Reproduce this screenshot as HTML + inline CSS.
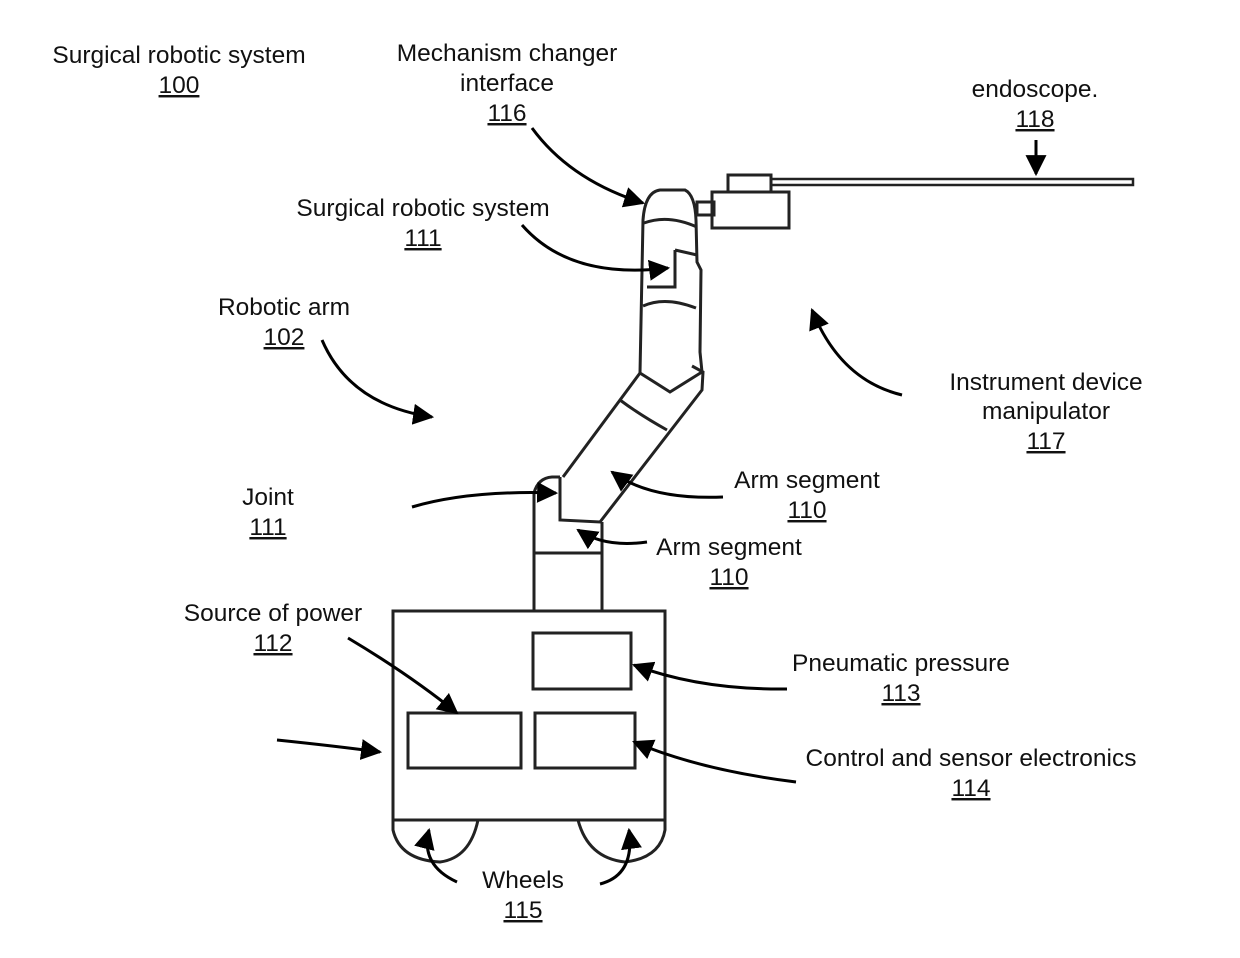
<!DOCTYPE html>
<html><head><meta charset="utf-8"><style>
html,body{margin:0;padding:0;background:#fff}
svg text{font-family:"Liberation Sans",Arial,sans-serif;font-size:24.5px;fill:#111}
</style></head><body>
<svg width="1240" height="953" viewBox="0 0 1240 953" xmlns="http://www.w3.org/2000/svg">
<defs>
<marker id="a" viewBox="0 0 10 10" refX="9" refY="5" markerWidth="7" markerHeight="7" orient="auto" markerUnits="strokeWidth"><path d="M0,0 L10,5 L0,10 z" fill="#000"/></marker>
</defs>
<g fill="none" stroke="#222" stroke-width="3">
<rect x="393" y="611" width="272" height="209"/>
<path d="M393,820 L393,830 Q400,860 440,862 Q470,858 478,820"/>
<path d="M578,820 Q588,858 625,862 Q660,858 665,830 L665,820"/>
<rect x="533" y="633" width="98" height="56"/>
<rect x="408" y="713" width="113" height="55"/>
<rect x="535" y="713" width="100" height="55"/>
<path d="M534,611 L534,493 Q538,478 552,477 L560,477"/>
<path d="M602,611 L602,522"/>
<path d="M534,553 L602,553"/>
<path d="M560,477 L560,520 L600,522 L702,390 L703,372 L692,366"/>
<path d="M563,477 L640,373"/>
<path d="M620,400 Q640,415 667,430"/>
<path d="M640,373 L643,220 Q645,192 660,190 L685,190 Q695,195 696,220 L697,262 L701,270 L700,352 L702,372 L670,392 Z"/>
<path d="M644,223 Q668,214 697,227"/>
<path d="M643,306 Q665,296 696,308"/>
<path d="M675,250 L697,255 M675,250 L675,287 L647,287"/>
<rect x="697" y="202" width="17" height="13"/>
<rect x="712" y="192" width="77" height="36"/>
<rect x="728" y="175" width="43" height="17"/>
<rect x="771" y="179" width="362" height="6" stroke-width="2.5"/>
</g>
<g fill="none" stroke="#000" stroke-width="3" marker-end="url(#a)">
<path d="M1036,140 L1036,174"/>
<path d="M532,128 Q570,180 643,203"/>
<path d="M522,225 Q570,280 668,268"/>
<path d="M322,340 Q350,405 432,417"/>
<path d="M902,395 Q840,380 812,310"/>
<path d="M412,507 Q470,490 556,493"/>
<path d="M723,497 Q650,500 612,472"/>
<path d="M647,542 Q605,548 578,530"/>
<path d="M348,638 Q410,675 457,713"/>
<path d="M787,689 Q700,690 634,665"/>
<path d="M277,740 Q335,746 380,752"/>
<path d="M796,782 Q700,770 634,742"/>
<path d="M457,882 Q420,865 429,830"/>
<path d="M600,884 Q635,875 629,830"/>
</g>
<g text-anchor="middle">
<text x="179" y="63">Surgical robotic system</text>
<text x="179" y="93" text-decoration="underline">100</text>
<text x="507" y="61">Mechanism changer</text>
<text x="507" y="91">interface</text>
<text x="507" y="121" text-decoration="underline">116</text>
<text x="1035" y="97">endoscope.</text>
<text x="1035" y="127" text-decoration="underline">118</text>
<text x="423" y="216">Surgical robotic system</text>
<text x="423" y="246" text-decoration="underline">111</text>
<text x="284" y="315">Robotic arm</text>
<text x="284" y="345" text-decoration="underline">102</text>
<text x="1046" y="390">Instrument device</text>
<text x="1046" y="419">manipulator</text>
<text x="1046" y="449" text-decoration="underline">117</text>
<text x="268" y="505">Joint</text>
<text x="268" y="535" text-decoration="underline">111</text>
<text x="807" y="488">Arm segment</text>
<text x="807" y="518" text-decoration="underline">110</text>
<text x="729" y="555">Arm segment</text>
<text x="729" y="585" text-decoration="underline">110</text>
<text x="273" y="621">Source of power</text>
<text x="273" y="651" text-decoration="underline">112</text>
<text x="901" y="671">Pneumatic pressure</text>
<text x="901" y="701" text-decoration="underline">113</text>
<text x="971" y="766">Control and sensor electronics</text>
<text x="971" y="796" text-decoration="underline">114</text>
<text x="523" y="888">Wheels</text>
<text x="523" y="918" text-decoration="underline">115</text>
</g>
</svg>
</body></html>
